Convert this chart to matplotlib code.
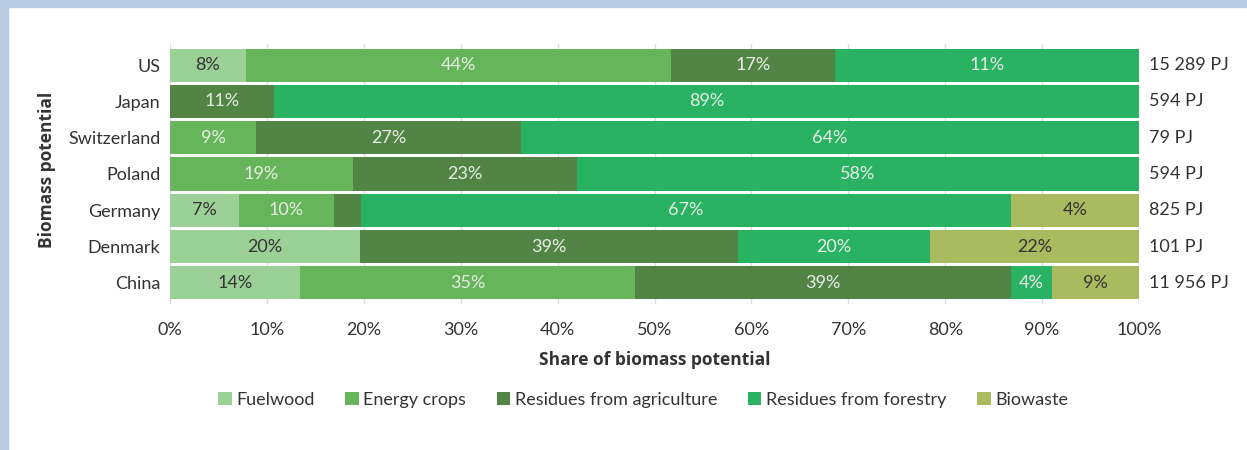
import matplotlib.pyplot as plt
import numpy as np
from matplotlib.patches import Rectangle

countries = ['US', 'Japan', 'Switzerland', 'Poland', 'Germany', 'Denmark', 'China']
totals = ['15 289 PJ', '594 PJ', '79 PJ', '594 PJ', '825 PJ', '101 PJ', '11 956 PJ']
sources = ['Fuelwood', 'Energy crops', 'Residues from agriculture',
           'Residues from forestry', 'Biowaste']

# bar widths (share, %)
fuelwood = [7.8, 0, 0, 0, 7.1, 19.6, 13.4]
energy_crops = [43.9, 0, 8.9, 18.9, 9.8, 0, 34.6]
agriculture = [16.9, 10.7, 27.3, 23.1, 2.8, 39.0, 38.8]
forestry = [31.4, 89.3, 63.8, 58.0, 67.1, 19.8, 4.2]
biowaste = [0, 0, 0, 0, 13.2, 21.6, 9.0]

# printed labels (as in the original, not always equal to the widths)
fuelwood_lbl = ['8%', '', '', '', '7%', '20%', '14%']
energy_lbl = ['44%', '', '9%', '19%', '10%', '', '35%']
agriculture_lbl = ['17%', '11%', '27%', '23%', '', '39%', '39%']
forestry_lbl = ['11%', '89%', '64%', '58%', '67%', '20%', '4%']
biowaste_lbl = ['', '', '', '', '4%', '22%', '9%']

colors = ['#9bd196', '#67b55a', '#528545', '#28b262', '#aaba5e']
txt_colors = ['#333333', '#e6eee4', '#e6eee4', '#e6eee4', '#333333']

plt.rcParams['font.family'] = ['Lato', 'DejaVu Sans']
dark = '#333333'
fs = 13

fig = plt.figure(figsize=(12.47, 4.5), dpi=100)
fig.patch.set_facecolor('white')
# light blue frame on top and left
fig.patches.append(Rectangle((0, 1 - 7 / 450), 1, 7 / 450, transform=fig.transFigure,
                             color='#b9cce4', zorder=0))
fig.patches.append(Rectangle((0, 0), 8 / 1247, 1, transform=fig.transFigure,
                             color='#b9cce4', zorder=0))

ax = fig.add_axes([170 / 1247, 1 - 304 / 450, 969 / 1247, 260 / 450])
y = np.arange(len(countries))
data = [fuelwood, energy_crops, agriculture, forestry, biowaste]
labels = [fuelwood_lbl, energy_lbl, agriculture_lbl, forestry_lbl, biowaste_lbl]

left = np.zeros(len(countries))
for i in range(len(sources)):
    vals = np.array(data[i])
    ax.barh(y, vals, left=left, height=0.91, color=colors[i], label=sources[i], zorder=2)
    for j in range(len(countries)):
        if labels[i][j] != '':
            ax.text(left[j] + vals[j] / 2, y[j], labels[i][j], ha='center', va='center',
                    color=txt_colors[i], fontsize=fs, zorder=3)
    left = left + vals

for j in range(len(countries)):
    ax.text(101, y[j], totals[j], ha='left', va='center', color=dark, fontsize=fs)

ax.set_xlim(0, 100)
ax.set_ylim(6.58, -0.58)
ax.set_xticks(np.arange(0, 101, 10))
ax.set_xticklabels([str(v) + '%' for v in range(0, 101, 10)])
ax.set_yticks(y)
ax.set_yticklabels(countries)
ax.tick_params(length=0, labelsize=fs, labelcolor=dark)
ax.tick_params(axis='x', pad=13)
ax.tick_params(axis='y', pad=7)
ax.grid(axis='x', color='#dcdcdc', linewidth=1, zorder=1)
for s in ax.spines.values():
    s.set_visible(False)

ax.set_xlabel('Share of biomass potential', fontsize=12.5, fontweight='bold',
              family=['Open Sans', 'DejaVu Sans'], color=dark, labelpad=9)
fig.text(47 / 1247, 1 - 170 / 450, 'Biomass potential', rotation=90, ha='center', va='center',
         fontsize=12.5, fontweight='bold', family=['Open Sans', 'DejaVu Sans'], color=dark)

leg = fig.legend(loc='center', bbox_to_anchor=(643 / 1247, 1 - 400 / 450), ncol=5,
                 frameon=False, fontsize=fs, handlelength=0.75, handleheight=0.75,
                 handletextpad=0.25, columnspacing=1.7)
for t in leg.get_texts():
    t.set_color(dark)

fig.savefig('out.png', dpi=100, facecolor='white')
